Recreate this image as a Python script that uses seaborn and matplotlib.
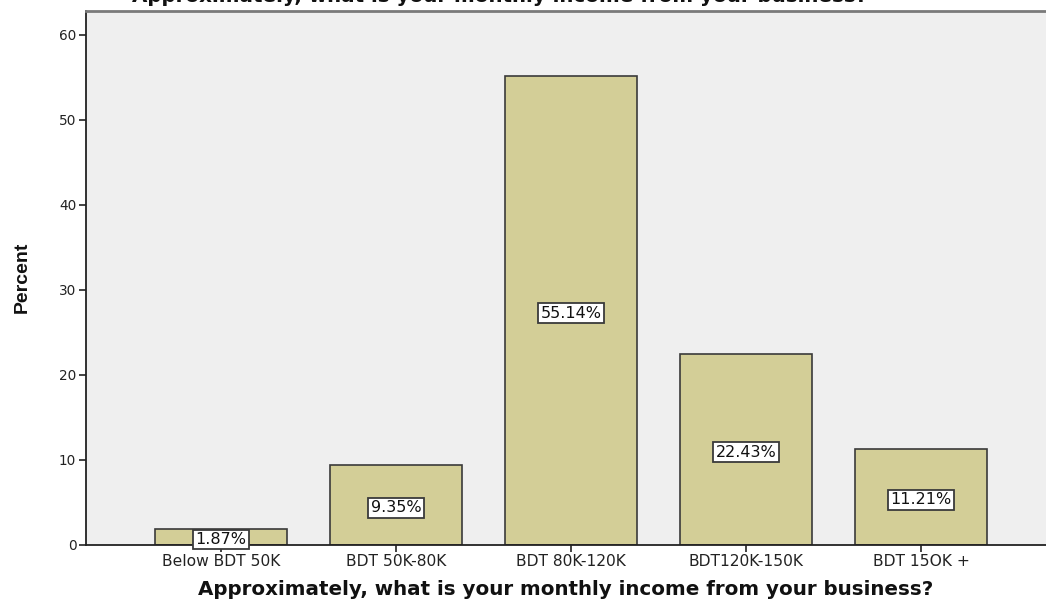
import matplotlib
matplotlib.use("Agg")
import matplotlib.pyplot as plt
import seaborn as sns
import pandas as pd

categories = ["Below BDT 50K", "BDT 50K-80K", "BDT 80K-120K", "BDT120K-150K", "BDT 15OK +"]
percents = [1.87, 9.35, 55.14, 22.43, 11.21]
value_labels = ["1.87%", "9.35%", "55.14%", "22.43%", "11.21%"]
y_ticks = [0, 10, 20, 30, 40, 50, 60]

title = "Approximately, what is your monthly income from your business?"

sns.set_theme(style="white")
plt.rcParams["font.family"] = ["DejaVu Sans"]

df = pd.DataFrame({"income": categories, "percent": percents})

W, H = 1046, 605
fig = plt.figure(figsize=(W / 100, H / 100), dpi=100)
left, right, top, bottom = 86, 1046, 11, 544.5
ax = fig.add_axes([left / W, 1 - bottom / H, (right - left) / W, (bottom - top) / H])
ax.set_facecolor("#EFEFEF")

sns.barplot(data=df, x="income", y="percent", ax=ax, color="#D3CE97",
            saturation=1, width=0.755, edgecolor="#3a3a3a", linewidth=1.2)

ax.set_xlim(-0.771, 4.714)
ax.set_ylim(0, 62.77)
ax.set_yticks(y_ticks)
ax.set_yticklabels([str(t) for t in y_ticks], fontsize=9.8, color="#222222")
ax.set_xticks(range(len(categories)))
ax.set_xticklabels(categories, fontsize=11.2, color="#222222")
ax.tick_params(axis="both", direction="out", length=5, width=1.2, color="#222222",
               bottom=True, left=True, pad=2)

for side in ("left", "bottom"):
    ax.spines[side].set_color("#222222")
    ax.spines[side].set_linewidth(1.3)
ax.spines["top"].set_color("#7a7a7a")
ax.spines["top"].set_linewidth(2.0)
ax.spines["right"].set_visible(False)

ax.set_xlabel(title, fontsize=14.3, fontweight="bold", labelpad=8, color="#111111")
ax.set_ylabel("Percent", fontsize=14, fontweight="bold", labelpad=20,
              family=["Liberation Sans", "DejaVu Sans"], color="#111111")

for i, (v, lab) in enumerate(zip(percents, value_labels)):
    ax.text(i, v / 2 - 0.35, lab, ha="center", va="center", fontsize=11.5, color="#111111",
            bbox=dict(boxstyle="square,pad=0.15", facecolor="white", edgecolor="#3a3a3a",
                      linewidth=1.3))

# Chart title sits above the frame, partly clipped at the top edge
fig.text(500 / W, 1 + 3 / H, title, ha="center", va="center", fontsize=14.3,
         fontweight="bold", color="#111111")

fig.savefig("out.png", dpi=100)
